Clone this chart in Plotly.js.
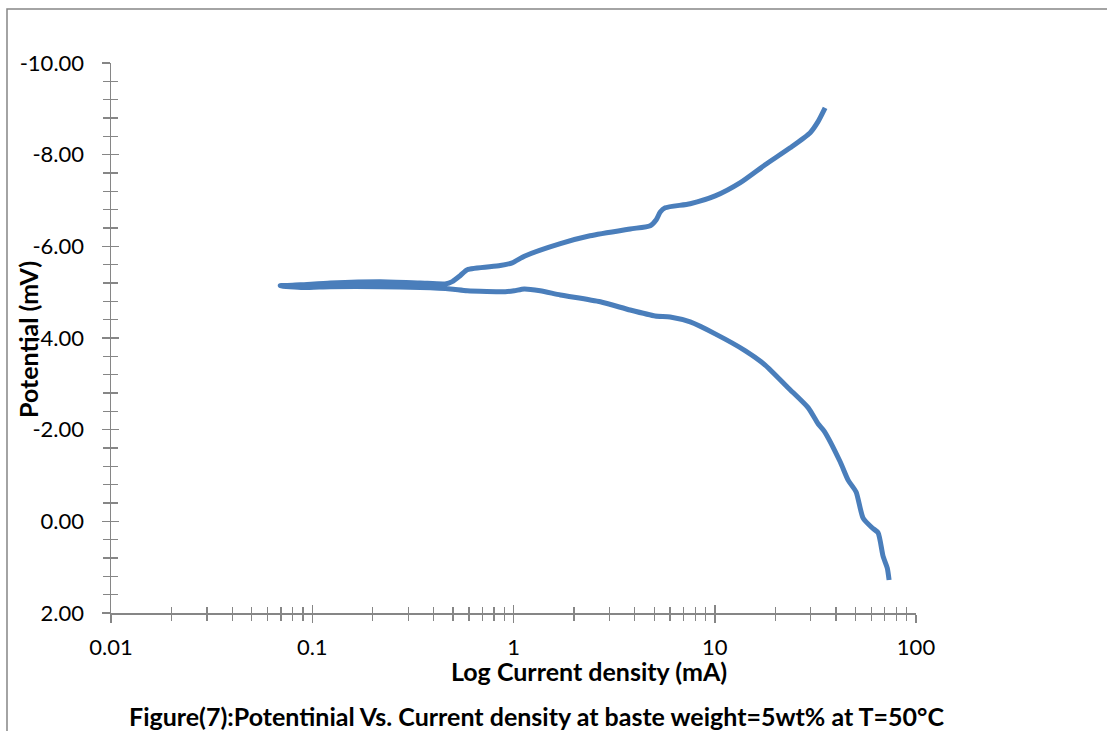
<!DOCTYPE html>
<html>
<head>
<meta charset="utf-8">
<script src="https://cdn.plot.ly/plotly-3.0.1.min.js"></script>
<style>html,body{margin:0;padding:0;background:#fff;}#chart{width:1107px;height:731px;}</style>
</head>
<body>
<div id="chart"></div>
<script>
// Current density (mA) and potential (mV)
const currentDensity = [
  35.35, 32.6, 29.8, 23.7, 17.8, 13.4, 10.05, 7.55, 5.67, 5.36, 5.12, 4.78, 3.80, 2.40, 1.71, 1.14, 0.985, 0.859,
  0.589, 0.543, 0.496, 0.458, 0.344, 0.218, 0.123, 0.0872, 0.0693,
  0.0902, 0.123, 0.218, 0.344, 0.485, 0.589, 0.910, 1.008, 1.13, 1.357, 1.71, 2.70, 3.80, 5.06, 6.00, 7.55,
  10.05, 14.2, 17.8, 23.2, 29.1, 32.6, 34.96, 42.0, 46.0, 50.4, 54.6, 60.5, 64.8, 68.6, 72.0, 73.5
];
const potential = [
  -9.02, -8.72, -8.48, -8.15, -7.78, -7.39, -7.10, -6.93, -6.84, -6.75, -6.58, -6.45, -6.38, -6.23, -6.06, -5.79, -5.64, -5.58,
  -5.49, -5.36, -5.23, -5.18, -5.20, -5.23, -5.20, -5.16, -5.14,
  -5.10, -5.12, -5.12, -5.10, -5.07, -5.03, -5.01, -5.03, -5.07, -5.03, -4.94, -4.79, -4.61, -4.48, -4.46, -4.35,
  -4.09, -3.72, -3.41, -2.91, -2.48, -2.13, -1.97, -1.30, -0.90, -0.64, -0.07, 0.14, 0.25, 0.76, 1.02, 1.28
];
const xTickVals = [0.01, 0.1, 1, 10, 100];
const xTickText = ['0.01', '0.1', '1', '10', '100'];
const xMinorVals = [
  0.02, 0.03, 0.04, 0.05, 0.06, 0.07, 0.08, 0.09,
  0.2, 0.3, 0.4, 0.5, 0.6, 0.7, 0.8, 0.9,
  2, 3, 4, 5, 6, 7, 8, 9,
  20, 30, 40, 50, 60, 70, 80, 90
];
const yTickVals = [-10, -8, -6, -4, -2, 0, 2];
const yTickText = ['-10.00', '-8.00', '-6.00', '-4.00', '-2.00', '0.00', '2.00'];
const xTitle = 'Log Current density (mA)';
const yTitle = 'Potential (mV)';
const caption = 'Figure(7):Potentinial Vs. Current density at baste weight=5wt% at T=50\u00B0C';

const FONT = 'Lato, "Open Sans", sans-serif';
const AX = '#868686';

const data = [
  {
    x: currentDensity, y: potential, type: 'scatter', mode: 'lines',
    line: {color: '#4a7ebb', width: 5, shape: 'spline', smoothing: 0.6},
    showlegend: false, hoverinfo: 'skip'
  },
  { x: [], y: [], xaxis: 'x2', yaxis: 'y2', type: 'scatter', mode: 'lines', showlegend: false }
];

const xMinor = (dir) => ({tickmode: 'array', tickvals: xMinorVals, ticks: dir, ticklen: 6, tickwidth: 1.3, tickcolor: AX, showgrid: false});
const yMinor = (dir) => ({tickmode: 'linear', tick0: 0, dtick: 0.4, ticks: dir, ticklen: 7, tickwidth: 1.3, tickcolor: AX, showgrid: false});

const layout = {
  width: 1107, height: 731,
  margin: {l: 111, r: 191, t: 63, b: 118},
  paper_bgcolor: '#fff', plot_bgcolor: '#fff',
  font: {family: FONT, color: '#000'},
  showlegend: false,
  xaxis: {
    type: 'log', range: [-2, 2], autorange: false, tickmode: 'array', tickvals: xTickVals, ticktext: xTickText,
    showline: true, linecolor: AX, linewidth: 1.5, showgrid: false, zeroline: false,
    ticks: 'outside', ticklen: 8, tickwidth: 1.5, tickcolor: AX,
    tickfont: {family: FONT, size: 22, color: '#000'}, ticklabelstandoff: 6,
    minor: xMinor('outside')
  },
  xaxis2: {
    type: 'log', range: [-2, 2], autorange: false, overlaying: 'x', anchor: 'y', side: 'bottom',
    tickmode: 'array', tickvals: xTickVals,
    showline: false, showgrid: false, zeroline: false, showticklabels: false,
    ticks: 'inside', ticklen: 8, tickwidth: 1.5, tickcolor: AX,
    minor: xMinor('inside')
  },
  yaxis: {
    range: [2, -10], autorange: false, tickmode: 'array', tickvals: yTickVals, ticktext: yTickText,
    showline: true, linecolor: AX, linewidth: 1.5, showgrid: false, zeroline: false,
    ticks: 'outside', ticklen: 8, tickwidth: 1.5, tickcolor: AX,
    tickfont: {family: FONT, size: 22, color: '#000'}, ticklabelstandoff: 13,
    minor: yMinor('outside')
  },
  yaxis2: {
    range: [2, -10], autorange: false, overlaying: 'y', anchor: 'x', side: 'left',
    tickmode: 'array', tickvals: yTickVals,
    showline: false, showgrid: false, zeroline: false, showticklabels: false,
    ticks: 'inside', ticklen: 8, tickwidth: 1.5, tickcolor: AX,
    minor: yMinor('inside')
  },
  annotations: [
    {text: '<b>' + yTitle + '</b>', xref: 'paper', yref: 'paper', x: -0.1031, y: 0.4964,
     xanchor: 'center', yanchor: 'middle', textangle: -90, showarrow: false,
     font: {family: FONT, size: 25, color: '#000'}},
    {text: '<b>' + xTitle + '</b>', xref: 'paper', yref: 'paper', x: 0.5938, y: -0.1055,
     xanchor: 'center', yanchor: 'middle', showarrow: false,
     font: {family: FONT, size: 25, color: '#000'}},
    {text: '<b>' + caption + '</b>', xref: 'paper', yref: 'paper', x: 0.528, y: -0.1873,
     xanchor: 'center', yanchor: 'middle', showarrow: false,
     font: {family: FONT, size: 25, color: '#000'}}
  ],
  shapes: [
    {type: 'rect', xref: 'paper', yref: 'paper', x0: -0.1292, y0: 1.0982, x1: 1.245, y1: -0.235,
     line: {color: AX, width: 1.5}, fillcolor: 'rgba(0,0,0,0)', layer: 'below'}
  ]
};

Plotly.newPlot('chart', data, layout, {displayModeBar: false, staticPlot: true});
</script>
</body>
</html>
